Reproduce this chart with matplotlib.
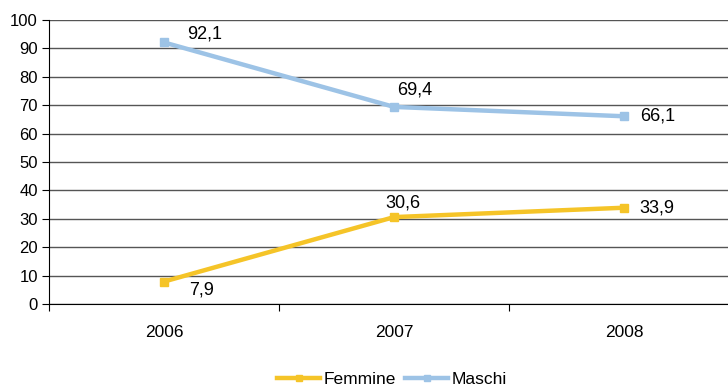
import matplotlib
matplotlib.use("Agg")
import matplotlib.pyplot as plt
import numpy as np

years = ["2006", "2007", "2008"]
femmine = [7.9, 30.6, 33.9]
maschi = [92.1, 69.4, 66.1]
series_names = ["Femmine", "Maschi"]
yticks = list(range(0, 101, 10))

plt.rcParams['font.family'] = ['Liberation Sans', 'DejaVu Sans']

W, H = 728, 387
fig = plt.figure(figsize=(W/100, H/100), dpi=100)
left, right, top, bottom = 49, 739, 20, 304
ax = fig.add_axes([left/W, 1 - bottom/H, (right-left)/W, (bottom-top)/H])

x = np.arange(len(years)) + 0.5
gold = "#F5C428"
blue = "#9DC3E6"
ax.plot(x, femmine, color=gold, lw=3.2, marker="s", ms=6, label=series_names[0], zorder=3)
ax.plot(x, maschi, color=blue, lw=3.2, marker="s", ms=6, label=series_names[1], zorder=3)

ax.set_xlim(0, 3)
ax.set_ylim(0, 100)
ax.set_yticks(yticks)
ax.set_yticklabels([str(v) for v in yticks])
ax.set_xticks([0, 1, 2, 3])
ax.set_xticklabels([])
ax.set_xticks(x, minor=True)
ax.set_xticklabels(years, minor=True)
ax.tick_params(axis='x', which='minor', length=0, pad=15, labelsize=12.5)
ax.tick_params(axis='x', which='major', length=5, direction='out', color='black')
ax.tick_params(axis='y', length=5, direction='out', color='black', pad=3, labelsize=12)
ax.yaxis.grid(True, color="#555555", lw=1)
ax.set_axisbelow(True)
for s in ["top", "right"]:
    ax.spines[s].set_visible(False)
ax.spines["left"].set_color("black")
ax.spines["bottom"].set_color("black")

def fmt(v):
    return f"{v:.1f}".replace(".", ",")

offsets_f = [(27, -6), (6.5, 10), (24, 0)]
offsets_m = [(29, 6), (15, 12), (24, 0)]
for xi, v, off in zip(x, femmine, offsets_f):
    ax.annotate(fmt(v), (xi, v), xytext=off, textcoords="offset points",
                ha="center", va="center", fontsize=13)
for xi, v, off in zip(x, maschi, offsets_m):
    ax.annotate(fmt(v), (xi, v), xytext=off, textcoords="offset points",
                ha="center", va="center", fontsize=13)

fig.legend(loc="center", bbox_to_anchor=(392/W, 1 - 379/H), ncol=2, frameon=False,
           fontsize=12.5, handlelength=2.5, handletextpad=0.2, columnspacing=0.5,
           markerscale=0.8)

fig.savefig("out.png", dpi=100)
